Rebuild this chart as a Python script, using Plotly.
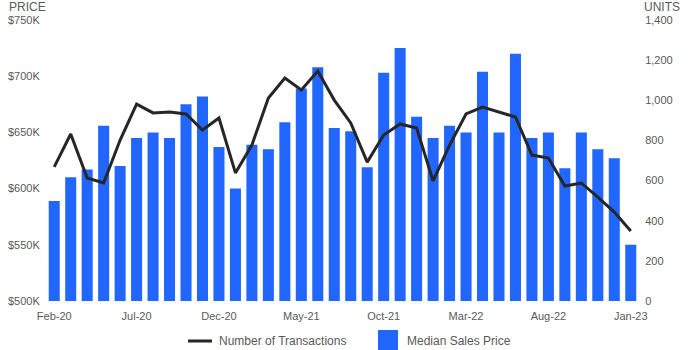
import plotly.graph_objects as go

months = ["Feb-20","Mar-20","Apr-20","May-20","Jun-20","Jul-20","Aug-20","Sep-20","Oct-20","Nov-20","Dec-20",
          "Jan-21","Feb-21","Mar-21","Apr-21","May-21","Jun-21","Jul-21","Aug-21","Sep-21","Oct-21","Nov-21","Dec-21",
          "Jan-22","Feb-22","Mar-22","Apr-22","May-22","Jun-22","Jul-22","Aug-22","Sep-22","Oct-22","Nov-22","Dec-22",
          "Jan-23"]
median_price = [589000, 610000, 617000, 656000, 620000, 645000, 650000, 645000, 675000, 682000, 637000,
                600000, 639000, 635000, 659000, 689000, 708000, 654000, 651000, 619000, 703000, 725000, 664000,
                645000, 656000, 650000, 704000, 650000, 720000, 645000, 650000, 618000, 650000, 635000, 627000,
                550000]
transactions = [668, 832, 613, 588, 802, 981, 937, 942, 932, 852, 912,
                638, 777, 1011, 1111, 1051, 1146, 1001, 887, 692, 827, 882, 862,
                598, 777, 932, 966, 942, 917, 727, 712, 573, 588, 518, 443,
                349]
x_ticks = ["Feb-20", "Jul-20", "Dec-20", "May-21", "Oct-21", "Mar-22", "Aug-22", "Jan-23"]
price_ticks = [500000, 550000, 600000, 650000, 700000, 750000]
price_labels = ["$500K", "$550K", "$600K", "$650K", "$700K", "$750K"]
unit_ticks = [0, 200, 400, 600, 800, 1000, 1200, 1400]

FONT = "Liberation Sans, Arial, sans-serif"
GREY = "#595959"
BLUE = "#2166ff"
LINE = "#262626"

# plot-area geometry (pixels) used only to place the hand-made legend and axis titles
L, R, T, B = 46, 639, 20, 301
def px(x):
    return (x - L) / (R - L)
def py(y):
    return (B - y) / (B - T)

fig = go.Figure()
fig.add_trace(go.Bar(x=months, y=median_price, name="Median Sales Price",
                     marker=dict(color=BLUE, line=dict(width=0)), yaxis="y"))
fig.add_trace(go.Scatter(x=months, y=transactions, name="Number of Transactions", mode="lines",
                         line=dict(color=LINE, width=3), yaxis="y2"))

fig.update_layout(
    width=700, height=350,
    margin=dict(l=L, r=700 - R, t=T, b=350 - B, autoexpand=False),
    paper_bgcolor="white", plot_bgcolor="white",
    font=dict(family=FONT, size=11, color=GREY),
    bargap=0.33,
    showlegend=False,
    xaxis=dict(type="category", tickmode="array", tickvals=x_ticks, ticktext=x_ticks,
               showgrid=False, showline=False, zeroline=False, ticks="outside", ticklen=5,
               tickcolor="rgba(0,0,0,0)", tickangle=0,
               tickfont=dict(size=11, color=GREY)),
    yaxis=dict(range=[500000, 750000], tickvals=price_ticks, ticktext=price_labels,
               showgrid=False, showline=False, zeroline=False, ticks="outside", ticklen=3,
               tickcolor="rgba(0,0,0,0)",
               tickfont=dict(size=11, color=GREY)),
    yaxis2=dict(range=[0, 1400], tickvals=unit_ticks, overlaying="y", side="right",
                tickformat=",d", showgrid=False, showline=False, zeroline=False,
                ticks="outside", ticklen=3, tickcolor="rgba(0,0,0,0)",
                tickfont=dict(size=11, color=GREY)),
    annotations=[
        dict(text="PRICE", xref="paper", yref="paper", x=px(7), y=py(7),
             xanchor="left", yanchor="middle", showarrow=False, font=dict(size=12, color=GREY)),
        dict(text="UNITS", xref="paper", yref="paper", x=px(642), y=py(7),
             xanchor="left", yanchor="middle", showarrow=False, font=dict(size=12, color=GREY)),
        dict(text="Number of Transactions", xref="paper", yref="paper", x=px(217), y=py(341),
             xanchor="left", yanchor="middle", showarrow=False, font=dict(size=12, color=GREY)),
        dict(text="Median Sales Price", xref="paper", yref="paper", x=px(405), y=py(341),
             xanchor="left", yanchor="middle", showarrow=False, font=dict(size=12, color=GREY)),
    ],
    shapes=[
        dict(type="line", xref="paper", yref="paper", x0=px(188), x1=px(212), y0=py(341), y1=py(341),
             line=dict(color=LINE, width=3)),
        dict(type="rect", xref="paper", yref="paper", x0=px(378), x1=px(398), y0=py(330), y1=py(351),
             fillcolor=BLUE, line=dict(width=0)),
    ],
)

fig.write_html("out.html")
